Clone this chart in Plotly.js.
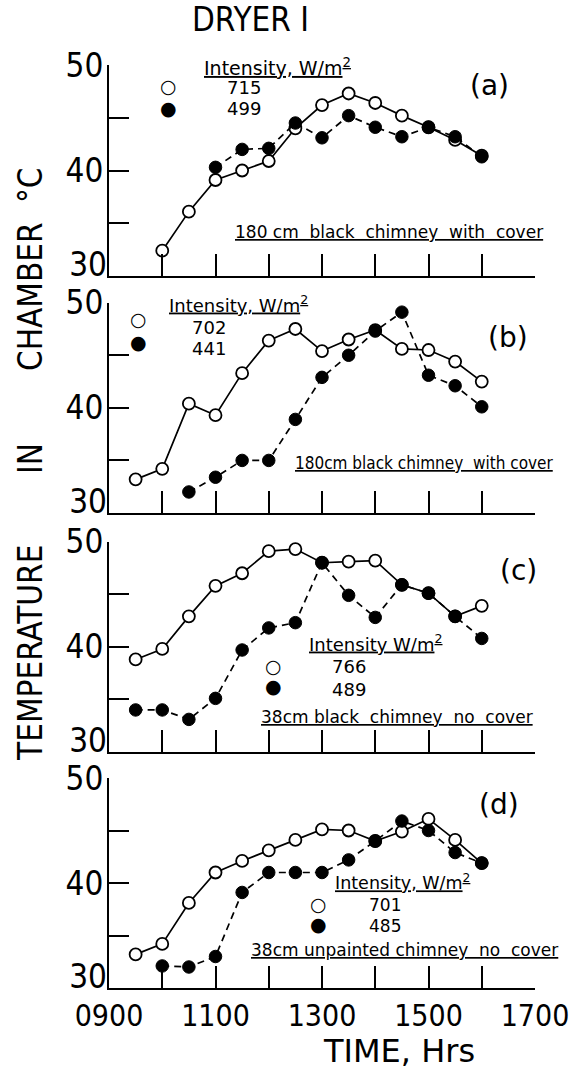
<!DOCTYPE html>
<html><head><meta charset="utf-8">
<script src="https://cdn.plot.ly/plotly-3.0.1.min.js"></script>
<style>html,body{margin:0;padding:0;background:#fff}#chart{width:574px;height:1074px}</style>
</head><body><div id="chart"></div>
<script>
// ---- data ----
const times = ["0930","1000","1030","1100","1130","1200","1230","1300","1330","1400","1430","1500","1530","1600"];
const openA = [null,32.4,36.1,39.1,40.0,40.9,44.0,46.2,47.3,46.4,45.2,44.1,42.9,41.4];
const fillA = [null,null,null,40.3,42.0,42.1,44.5,43.1,45.2,44.1,43.2,44.1,43.2,41.3];
const openB = [33.2,34.2,40.4,39.3,43.3,46.4,47.5,45.4,46.5,47.4,45.6,45.5,44.4,42.5];
const fillB = [null,null,32.0,33.4,35.0,35.0,38.9,42.9,45.0,47.3,49.1,43.1,42.1,40.1];
const openC = [38.8,39.8,42.9,45.8,47.0,49.1,49.3,48.0,48.1,48.2,45.9,45.1,42.9,43.9];
const fillC = [34.0,34.0,33.1,35.1,39.7,41.8,42.3,48.0,44.9,42.8,45.9,45.1,42.9,40.8];
const openD = [33.2,34.2,38.1,41.0,42.1,43.1,44.1,45.1,45.0,44.0,44.9,46.1,44.1,41.9];
const fillD = [null,32.1,32.0,33.0,39.1,41.0,41.0,41.0,42.2,44.0,45.9,45.0,42.9,41.9];
const panelLabels = ["(a)","(b)","(c)","(d)"];
const conditions = ["180 cm  black  chimney  with  cover","180cm black chimney  with cover","38cm black  chimney  no  cover","38cm unpainted chimney  no  cover"];
const intensHeads = ["Intensity, W/m<sup>2</sup>","Intensity, W/m<sup>2</sup>","Intensity W/m<sup>2</sup>","Intensity, W/m<sup>2</sup>"];
const intensOpen = ["715","702","766","701"];
const intensFill = ["499","441","489","485"];
const yTitleWords = ["TEMPERATURE","IN","CHAMBER","\u00B0C"];
const xTickVals = [9,10,11,12,13,14,15,16,17];
const xTickText = ["0900","","1100","","1300","","1500","","1700"];
const yTickVals = [30,35,40,45,50];
const yTickText = ["","","40","","50"];   // "30" is drawn by a companion axis, raised as in the original
const yLowVals = [30];
const yLowText = ["30"];

// ---- helpers ----
const W = 574, H = 1074;
const px = v => v / W;
const py = v => 1 - v / H;
const nb = s => s.replace(/ /g, "\u00A0");
const hours = times.map(t => parseInt(t.slice(0,2),10) + parseInt(t.slice(2),10)/60);

const openSeries = [openA, openB, openC, openD];
const fillSeries = [fillA, fillB, fillC, fillD];
const panelTop = [65, 302.7, 541.7, 778];
const panelBot = [276, 513, 752, 988];
const xLeft = 109, xRight = 535;

const FONT = "DejaVu Sans";
const FONTC = "DejaVu Sans Condensed, DejaVu Sans";

const traces = [];
const layout = {
  width: W, height: H,
  margin: {l: 0, r: 0, t: 0, b: 0},
  paper_bgcolor: "#fff", plot_bgcolor: "rgba(0,0,0,0)",
  showlegend: false,
  font: {family: FONT, color: "#000"},
  annotations: []
};

for (let i = 0; i < 4; i++) {
  const sfx = i === 0 ? "" : String(i + 1);
  const osfx = String(i + 5);
  traces.push({
    x: hours, y: openSeries[i], xaxis: "x" + sfx, yaxis: "y" + sfx,
    mode: "lines+markers", showlegend: false, hoverinfo: "skip",
    line: {color: "#000", width: 1.7},
    marker: {symbol: "circle", size: 12, color: "#fff", line: {color: "#000", width: 1.8}}
  });
  traces.push({
    x: hours, y: fillSeries[i], xaxis: "x" + sfx, yaxis: "y" + sfx,
    mode: "lines+markers", showlegend: false, hoverinfo: "skip",
    line: {color: "#000", width: 1.7, dash: "7px,5px"},
    marker: {symbol: "circle", size: 12.5, color: "#000", line: {color: "#000", width: 1}}
  });
  // empty trace so the companion axis is drawn
  traces.push({x: [], y: [], xaxis: "x" + sfx, yaxis: "y" + osfx, mode: "markers",
    showlegend: false, hoverinfo: "skip"});

  layout["xaxis" + sfx] = {
    domain: [px(xLeft), px(xRight)], range: [9, 17], anchor: "y" + sfx,
    showline: true, linecolor: "#000", linewidth: 2, mirror: false,
    showgrid: false, zeroline: false,
    ticks: "inside", ticklen: 22, tickwidth: 2, tickcolor: "#000",
    tickmode: "array", tickvals: xTickVals, ticktext: xTickText,
    showticklabels: i === 3,
    tickfont: {family: FONTC, size: 30, color: "#000"},
    fixedrange: true
  };
  layout["yaxis" + sfx] = {
    domain: [py(panelBot[i]), py(panelTop[i])], range: [30, 50], anchor: "x" + sfx,
    showline: true, linecolor: "#000", linewidth: 2, mirror: false,
    showgrid: false, zeroline: false,
    ticks: "inside", ticklen: 20, tickwidth: 2, tickcolor: "#000",
    tickmode: "array", tickvals: yTickVals, ticktext: yTickText,
    tickfont: {family: FONTC, size: 33, color: "#000"},
    ticklabelstandoff: -3,
    fixedrange: true
  };
  layout["yaxis" + osfx] = {
    overlaying: "y" + sfx, anchor: "x" + sfx, side: "left", range: [30, 50],
    showline: false, showgrid: false, zeroline: false, ticks: "",
    tickmode: "array", tickvals: yLowVals, ticktext: yLowText,
    tickfont: {family: FONTC, size: 33, color: "#000"},
    ticklabelstandoff: 1, ticklabelshift: -12,
    fixedrange: true
  };
}

// x-axis title (placed right of centre as in the original)
layout.annotations.push({
  xref: "paper", yref: "paper", x: px(399), y: py(1051),
  text: "TIME, Hrs", showarrow: false, xanchor: "center", yanchor: "middle",
  font: {family: FONT, size: 32, color: "#000"}
});

// Y title words (rotated), spanning all panels
const yTitleCentres = [653, 459, 297, 185];
for (let k = 0; k < yTitleWords.length; k++) {
  layout.annotations.push({
    xref: "paper", yref: "paper", x: px(30), y: py(yTitleCentres[k]), textangle: -90,
    text: yTitleWords[k], showarrow: false,
    font: {family: FONTC, size: 33, color: "#000"}, xanchor: "center", yanchor: "middle"
  });
}
// figure title
layout.annotations.push({
  xref: "paper", yref: "paper", x: px(190), y: py(20),
  text: "DRYER I", showarrow: false, xanchor: "left", yanchor: "middle",
  font: {family: FONTC, size: 33, color: "#000"}
});

// per-panel text placement (pixels)
const labelPos = [[489,85],[508,337],[518,570],[499,804]];
const condPos = [[545,232],[555,463],[535,717],[560,950]];
const condFont = [FONT, FONTC, FONT, FONT];
const headPos = [[202,67],[167,304],[307,643],[333,882]];
const headSize = [19, 18, 18, 17.5];
const circPos = [[168,86,108],[138,319,342],[273,666,686],[318,904,924]];
const numPos = [[225,87,108],[190,327,348],[330,666,689],[367,905,926]];
const numSize = [18, 18, 18, 17];

for (let i = 0; i < 4; i++) {
  layout.annotations.push({xref:"paper", yref:"paper", x: px(labelPos[i][0]), y: py(labelPos[i][1]),
    text: panelLabels[i], showarrow:false, xanchor:"center", yanchor:"middle",
    font:{family: FONT, size: 28, color:"#000"}});
  layout.annotations.push({xref:"paper", yref:"paper", x: px(condPos[i][0]), y: py(condPos[i][1]),
    text: "<u>" + nb(conditions[i]) + "</u>", showarrow:false, xanchor:"right", yanchor:"middle",
    font:{family: condFont[i], size: 17, color:"#000"}});
  layout.annotations.push({xref:"paper", yref:"paper", x: px(headPos[i][0]), y: py(headPos[i][1]),
    text: "<u>" + intensHeads[i] + "</u>", showarrow:false, xanchor:"left", yanchor:"middle",
    font:{family: FONT, size: headSize[i], color:"#000"}});
  layout.annotations.push({xref:"paper", yref:"paper", x: px(circPos[i][0]), y: py(circPos[i][1]),
    text: "\u25CB", showarrow:false, xanchor:"center", yanchor:"middle",
    font:{family: FONT, size: 19, color:"#000"}});
  layout.annotations.push({xref:"paper", yref:"paper", x: px(circPos[i][0]), y: py(circPos[i][2]),
    text: "\u25CF", showarrow:false, xanchor:"center", yanchor:"middle",
    font:{family: FONT, size: 19, color:"#000"}});
  layout.annotations.push({xref:"paper", yref:"paper", x: px(numPos[i][0]), y: py(numPos[i][1]),
    text: intensOpen[i], showarrow:false, xanchor:"left", yanchor:"middle",
    font:{family: FONT, size: numSize[i], color:"#000"}});
  layout.annotations.push({xref:"paper", yref:"paper", x: px(numPos[i][0]), y: py(numPos[i][2]),
    text: intensFill[i], showarrow:false, xanchor:"left", yanchor:"middle",
    font:{family: FONT, size: numSize[i], color:"#000"}});
}

Plotly.newPlot("chart", traces, layout, {staticPlot: true, displayModeBar: false});
</script></body></html>
